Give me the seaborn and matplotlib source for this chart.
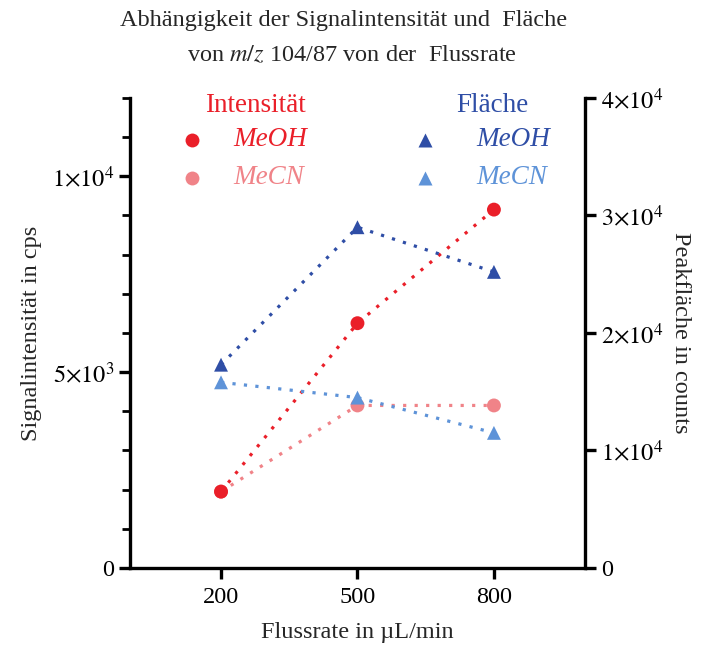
import matplotlib
matplotlib.use("Agg")
import matplotlib.pyplot as plt
from matplotlib.ticker import FixedLocator, MultipleLocator
import seaborn as sns
import pandas as pd

# Flow rates in µL/min
flow = [200, 500, 800]
# Signal intensity (cps), left axis
int_meoh = [1950, 6250, 9150]
int_mecn = [1950, 4150, 4150]
# Peak area (counts), right axis
area_meoh = [17300, 29000, 25200]
area_mecn = [15800, 14500, 11500]

c_int_meoh = "#EA1F29"
c_int_mecn = "#F08388"
c_area_meoh = "#2F4EA6"
c_area_mecn = "#5E93D8"

sns.set_theme(style="ticks")
plt.rcParams["font.family"] = ["Liberation Serif", "DejaVu Serif"]
plt.rcParams["mathtext.fontset"] = "stix"

FS = 17.5
FS_LEG = 19.5

fig = plt.figure(figsize=(7.03, 6.51), dpi=100)
ax = fig.add_axes([0.185, 0.1275, 0.647, 0.722])
ax2 = ax.twinx()

dots = (0, (1, 2.6))

df_int = pd.DataFrame({
    "flow": flow * 2,
    "val": int_meoh + int_mecn,
    "series": ["MeOH"] * 3 + ["MeCN"] * 3,
})
df_area = pd.DataFrame({
    "flow": flow * 2,
    "val": area_meoh + area_mecn,
    "series": ["MeOH"] * 3 + ["MeCN"] * 3,
})

# Intensity on the left axis (circles)
for name, col in [("MeCN", c_int_mecn), ("MeOH", c_int_meoh)]:
    d = df_int[df_int.series == name]
    sns.lineplot(data=d, x="flow", y="val", ax=ax, color=col, linewidth=2.3,
                 linestyle=dots, legend=False)
    sns.scatterplot(data=d, x="flow", y="val", ax=ax, color=col, s=100,
                    marker="o", edgecolor="none", legend=False, zorder=5)

# Peak area on the right axis (triangles)
for name, col in [("MeOH", c_area_meoh), ("MeCN", c_area_mecn)]:
    d = df_area[df_area.series == name]
    sns.lineplot(data=d, x="flow", y="val", ax=ax2, color=col, linewidth=2.3,
                 linestyle=dots, legend=False)
    sns.scatterplot(data=d, x="flow", y="val", ax=ax2, color=col, s=100,
                    marker="^", edgecolor="none", legend=False, zorder=5)

ax.set_xlim(0, 1000)
ax.set_ylim(0, 12000)
ax2.set_ylim(0, 40000)

ax.xaxis.set_major_locator(FixedLocator(flow))
ax.set_xticklabels([str(f) for f in flow])
ax.yaxis.set_major_locator(FixedLocator([0, 5000, 10000]))
ax.yaxis.set_minor_locator(MultipleLocator(1000))
ax.set_yticklabels(["0", r"$5{\times}10^3$", r"$1{\times}10^4$"])
ax2.yaxis.set_major_locator(FixedLocator([0, 10000, 20000, 30000, 40000]))
ax2.set_yticklabels(["0", r"$1{\times}10^4$", r"$2{\times}10^4$",
                     r"$3{\times}10^4$", r"$4{\times}10^4$"])

for a in (ax, ax2):
    a.spines["top"].set_visible(False)
    for s in ("left", "right", "bottom"):
        a.spines[s].set_linewidth(2.4)
        a.spines[s].set_color("black")
    a.tick_params(axis="both", which="major", width=2.4, length=8,
                  labelsize=FS, colors="black", direction="out")
    a.tick_params(axis="y", which="minor", width=2.0, length=6,
                  colors="black", direction="out")
    a.set_xlabel("")
    a.set_ylabel("")
ax.spines["right"].set_visible(False)
ax2.spines["left"].set_visible(False)
ax2.spines["bottom"].set_visible(False)
ax.tick_params(axis="x", pad=6)

ax.set_xlabel("Flussrate in µL/min", fontsize=FS, labelpad=10)
ax.set_ylabel("Signalintensität in cps", fontsize=FS, labelpad=7)
ax2.set_ylabel("Peakfläche in counts", fontsize=FS, rotation=270, labelpad=20)

fig.text(0.488, 0.968, "Abhängigkeit der Signalintensität und  Fläche",
         ha="center", va="center", fontsize=FS)
fig.text(0.5, 0.915, r"von $\it{m/z}$ 104/87 von der  Flussrate",
         ha="center", va="center", fontsize=FS)

# Legend drawn as text in axes coordinates
ax.text(0.275, 0.985, "Intensität", color=c_int_meoh, fontsize=FS_LEG,
        transform=ax.transAxes, ha="center", va="center")
ax.text(0.796, 0.985, "Fläche", color=c_area_meoh, fontsize=FS_LEG,
        transform=ax.transAxes, ha="center", va="center")
rows = [0.911, 0.830]
for y, name, ci, ca in [(rows[0], "MeOH", c_int_meoh, c_area_meoh),
                        (rows[1], "MeCN", c_int_mecn, c_area_mecn)]:
    ax.plot([0.136], [y], marker="o", ms=10, color=ci, mec="none",
            transform=ax.transAxes, clip_on=False)
    ax.text(0.228, y, name, color=ci, fontsize=FS_LEG, style="italic",
            transform=ax.transAxes, ha="left", va="center")
    ax.plot([0.648], [y], marker="^", ms=10, color=ca, mec="none",
            transform=ax.transAxes, clip_on=False)
    ax.text(0.762, y, name, color=ca, fontsize=FS_LEG, style="italic",
            transform=ax.transAxes, ha="left", va="center")

fig.savefig("out.png", dpi=100)
